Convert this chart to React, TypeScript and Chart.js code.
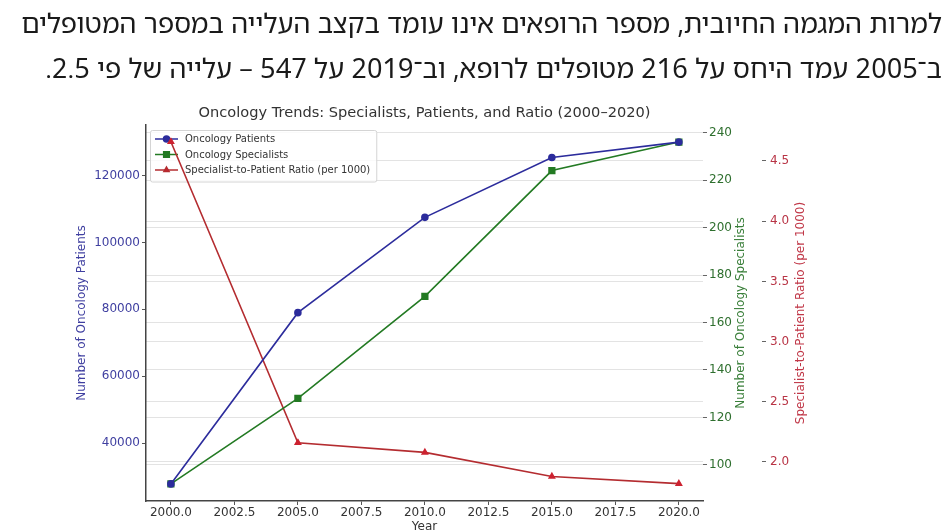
import React, { useEffect, useRef } from "react";
import { Chart, registerables } from "chart.js";
import { drawPoint } from "chart.js/helpers";

Chart.register(...registerables);

// values
const years = [2000, 2005, 2010, 2015, 2020];
const patients = [27800, 79000, 107500, 125400, 130000];
const specialists = [92, 128, 171, 224, 236];
const ratio = [4.66, 2.16, 2.08, 1.88, 1.82];

const yearTicks = [2000, 2002.5, 2005, 2007.5, 2010, 2012.5, 2015, 2017.5, 2020];
const patientTicks = [40000, 60000, 80000, 100000, 120000];
const specialistTicks = [100, 120, 140, 160, 180, 200, 220, 240];
const ratioTicks = [2.0, 2.5, 3.0, 3.5, 4.0, 4.5];

const chartTitle = "Oncology Trends: Specialists, Patients, and Ratio (2000–2020)";
const textLines = [
  "למרות המגמה החיובית, מספר הרופאים אינו עומד בקצב העלייה במספר המטופלים",
  "ב־2005 עמד היחס על 216 מטופלים לרופא, וב־2019 על 547 – עלייה של פי 2.5.",
];

const FONT = "'DejaVu Sans', sans-serif";
const BLUE = "#2c2c9c";
const GREEN = "#237a23";
const RED = "#b42c30";

const toPoints = (ys: number[]) => years.map((x, i) => ({ x, y: ys[i] }));
const setTicks = (list: number[]) => (scale: any) => {
  scale.ticks = list.map((value) => ({ value }));
};

// legend drawn inside the plot, top-left, like matplotlib
const insideLegend = {
  id: "insideLegend",
  beforeDatasetsDraw(chart: any) {
    const { ctx, chartArea } = chart;
    const sets = chart.data.datasets;
    ctx.save();
    ctx.font = `10px ${FONT}`;
    const textW = Math.max(...sets.map((d: any) => ctx.measureText(d.label).width));
    const x0 = chartArea.left + 4;
    const y0 = chartArea.top + 5;
    const rowH = 15.5;
    const w = 35 + textW + 6;
    const h = sets.length * rowH + 5;
    ctx.fillStyle = "rgba(255,255,255,0.8)";
    ctx.strokeStyle = "#d4d4d4";
    ctx.lineWidth = 1;
    ctx.beginPath();
    ctx.roundRect(x0 + 0.5, y0 + 0.5, w, h, 2);
    ctx.fill();
    ctx.stroke();
    sets.forEach((d: any, i: number) => {
      const cy = y0 + 9 + i * rowH;
      ctx.strokeStyle = d.borderColor;
      ctx.fillStyle = d.pointBackgroundColor;
      ctx.lineWidth = 1.5;
      ctx.beginPath();
      ctx.moveTo(x0 + 5, cy);
      ctx.lineTo(x0 + 28, cy);
      ctx.stroke();
      drawPoint(ctx, { pointStyle: d.pointStyle, rotation: 0, radius: d.pointRadius, borderWidth: 1 }, x0 + 16.5, cy);
      ctx.fillStyle = "#333";
      ctx.textBaseline = "middle";
      ctx.fillText(d.label, x0 + 35, cy + 0.5);
    });
    ctx.restore();
  },
};

// title centred over the plot, right-hand axis titles read bottom to top
const extraText = {
  id: "extraText",
  afterDraw(chart: any) {
    const { ctx, chartArea } = chart;
    const cy = (chartArea.top + chartArea.bottom) / 2;
    ctx.save();
    ctx.textAlign = "center";
    ctx.textBaseline = "middle";
    ctx.font = `14.6px ${FONT}`;
    ctx.fillStyle = "#333";
    ctx.fillText(chartTitle, (chartArea.left + chartArea.right) / 2, chartArea.top - 12);

    const items = [
      { scale: chart.scales.y1, text: "Number of Oncology Specialists", color: "#3a7f3a" },
      { scale: chart.scales.y2, text: "Specialist-to-Patient Ratio (per 1000)", color: "#c03848" },
    ];
    ctx.font = `12px ${FONT}`;
    items.forEach(({ scale, text, color }) => {
      ctx.save();
      ctx.translate(scale.right - 21, cy);
      ctx.rotate(-Math.PI / 2);
      ctx.fillStyle = color;
      ctx.fillText(text, 0, 0);
      ctx.restore();
    });
    ctx.restore();
  },
};

const OncologyChart = () => {
  const chartRef = useRef<HTMLCanvasElement | null>(null);

  useEffect(() => {
    const ctx = chartRef.current?.getContext("2d");
    if (!ctx) return;

    const chartInstance = new Chart(ctx, {
      type: "line",
      data: {
        datasets: [
          {
            label: "Oncology Patients",
            data: toPoints(patients),
            yAxisID: "y",
            borderColor: BLUE,
            backgroundColor: BLUE,
            pointBackgroundColor: BLUE,
            pointBorderColor: BLUE,
            pointStyle: "circle",
            pointRadius: 3,
            borderWidth: 1.6,
          },
          {
            label: "Oncology Specialists",
            data: toPoints(specialists),
            yAxisID: "y1",
            borderColor: GREEN,
            backgroundColor: GREEN,
            pointBackgroundColor: GREEN,
            pointBorderColor: GREEN,
            pointStyle: "rect",
            pointRadius: 4,
            borderWidth: 1.6,
          },
          {
            label: "Specialist-to-Patient Ratio (per 1000)",
            data: toPoints(ratio),
            yAxisID: "y2",
            borderColor: RED,
            backgroundColor: RED,
            pointBackgroundColor: "#cc2230",
            pointBorderColor: "#cc2230",
            pointStyle: "triangle",
            pointRadius: 3,
            borderWidth: 1.6,
          },
        ],
      },
      options: {
        animation: false,
        responsive: false,
        layout: { padding: { top: 125, left: 71, right: 121, bottom: 0 } },
        plugins: {
          legend: { display: false },
          tooltip: { enabled: false },
          title: { display: false },
        },
        scales: {
          x: {
            type: "linear",
            min: 1999.02,
            max: 2020.95,
            afterBuildTicks: setTicks(yearTicks),
            afterFit: (scale: any) => {
              scale.height = 29;
            },
            grid: { display: true, drawOnChartArea: false, tickLength: 4, tickColor: "#555" },
            border: { display: true, color: "#444", width: 1.5 },
            ticks: {
              color: "#333",
              padding: 1,
              maxRotation: 0,
              font: { family: FONT, size: 12 },
              callback: (v: any) => Number(v).toFixed(1),
            },
            title: {
              display: true,
              text: "Year",
              color: "#333",
              font: { family: FONT, size: 12 },
              padding: { top: 0, bottom: -4.2 },
            },
          },
          y: {
            position: "left",
            min: 22690,
            max: 135110,
            afterBuildTicks: setTicks(patientTicks),
            afterFit: (scale: any) => {
              scale.width = 75;
            },
            grid: { display: true, drawOnChartArea: false, tickLength: 4, tickColor: "#555" },
            border: { display: true, color: "#444", width: 1.5 },
            ticks: {
              color: "#3f3fa0",
              padding: 2,
              font: { family: FONT, size: 12 },
              callback: (v: any) => String(v),
            },
            title: {
              display: true,
              text: "Number of Oncology Patients",
              color: "#3f3fa0",
              font: { family: FONT, size: 12 },
            },
          },
          y1: {
            position: "right",
            min: 84.8,
            max: 243.2,
            afterBuildTicks: setTicks(specialistTicks),
            afterFit: (scale: any) => {
              scale.width = 59;
            },
            grid: { color: "rgba(0,0,0,0.11)", tickLength: 4, tickColor: "#666" },
            border: { display: false },
            ticks: {
              color: "#2e6f2e",
              padding: 2,
              font: { family: FONT, size: 12 },
            },
          },
          y2: {
            position: "right",
            min: 1.676,
            max: 4.799,
            afterBuildTicks: setTicks(ratioTicks),
            afterFit: (scale: any) => {
              scale.width = 60;
            },
            grid: { color: "rgba(0,0,0,0.11)", tickLength: 4, tickColor: "#666" },
            border: { display: false },
            ticks: {
              color: "#b83445",
              padding: 4,
              font: { family: FONT, size: 12 },
              callback: (v: any) => Number(v).toFixed(1),
            },
          },
        },
      },
      plugins: [insideLegend, extraText],
    });

    return () => {
      chartInstance.destroy();
    };
  }, []);

  return (
    <div style={{ position: "absolute", left: 0, top: 0, width: 943, height: 530, overflow: "hidden", background: "#fff" }}>
      <canvas ref={chartRef} width={943} height={530} style={{ position: "absolute", left: 0, top: 0 }} />
      <div
        dir="rtl"
        style={{
          position: "absolute",
          left: 0,
          top: 0,
          width: 942,
          fontFamily: "'Noto Sans Hebrew', 'Noto Sans', sans-serif",
          fontSize: 27,
          lineHeight: "45px",
          color: "#1a1a1a",
          whiteSpace: "nowrap",
          textAlign: "right",
        }}
      >
        {textLines.map((line) => (
          <div key={line}>{line}</div>
        ))}
      </div>
    </div>
  );
};

export default function App() {
  return <OncologyChart />;
}
